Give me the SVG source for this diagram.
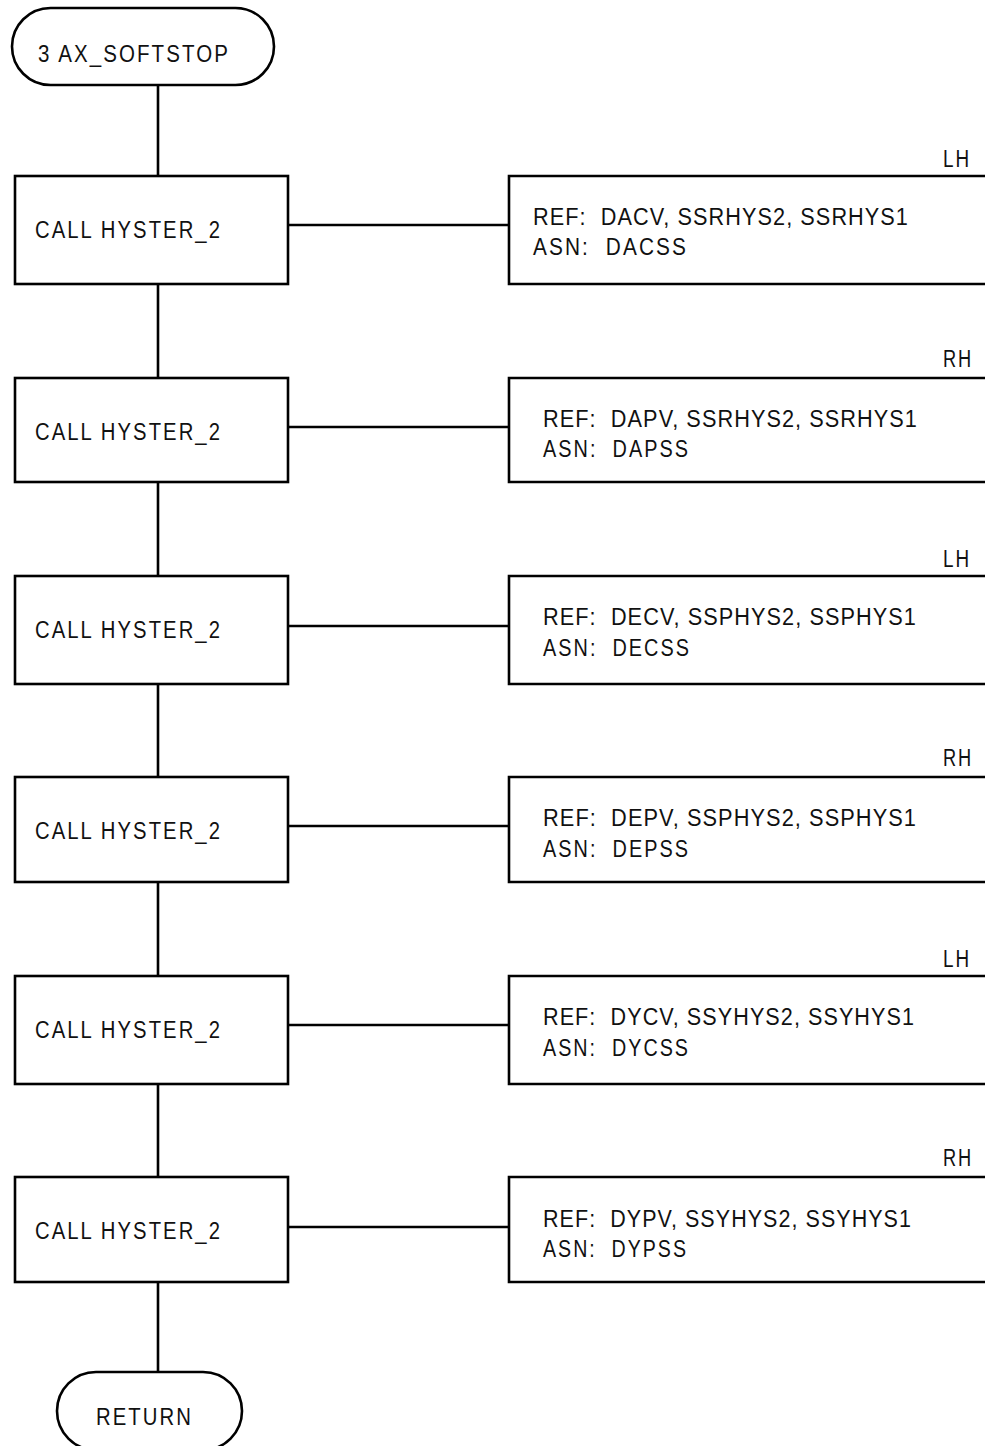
<svg xmlns="http://www.w3.org/2000/svg" width="985" height="1446" viewBox="0 0 985 1446" xml:space="preserve">
<style>
.s{fill:none;stroke:#000;stroke-width:2.6}
.t{font-family:"Liberation Sans",Arial,sans-serif;font-size:24.5px;letter-spacing:2.5px;fill:#111;white-space:pre}
.r{letter-spacing:1.2px}
</style>
<rect x="0" y="0" width="985" height="1446" fill="#fff"/>
<g id="connectors" class="s">
<path d="M158,85V176M158,284V378M158,482V576M158,684V777M158,882V976M158,1084V1177M158,1282V1372"/>
<path d="M288,225H509M288,427H509M288,626H509M288,826H509M288,1025H509M288,1227H509"/>
</g>
<g id="start">
<rect class="s" x="12" y="8" width="262" height="77" rx="38.5"/>
<text class="t" x="38" y="62" textLength="192" lengthAdjust="spacingAndGlyphs">3 AX_SOFTSTOP</text>
</g>
<g id="call1"><rect class="s" x="15" y="176" width="273" height="108"/><text class="t" x="35" y="238" textLength="187" lengthAdjust="spacingAndGlyphs">CALL HYSTER_2</text></g>
<g id="note1"><path class="s" d="M985,176H509V284H985"/><text class="t" x="943" y="167" textLength="28" lengthAdjust="spacingAndGlyphs">LH</text><text class="t r" x="533" y="225" textLength="376" lengthAdjust="spacingAndGlyphs">REF:  DACV, SSRHYS2, SSRHYS1</text><text class="t" x="533" y="255" textLength="155" lengthAdjust="spacingAndGlyphs">ASN:  DACSS</text></g>
<g id="call2"><rect class="s" x="15" y="378" width="273" height="104"/><text class="t" x="35" y="440" textLength="187" lengthAdjust="spacingAndGlyphs">CALL HYSTER_2</text></g>
<g id="note2"><path class="s" d="M985,378H509V482H985"/><text class="t" x="943" y="367" textLength="30" lengthAdjust="spacingAndGlyphs">RH</text><text class="t r" x="543" y="427" textLength="375" lengthAdjust="spacingAndGlyphs">REF:  DAPV, SSRHYS2, SSRHYS1</text><text class="t" x="543" y="457" textLength="147" lengthAdjust="spacingAndGlyphs">ASN:  DAPSS</text></g>
<g id="call3"><rect class="s" x="15" y="576" width="273" height="108"/><text class="t" x="35" y="638" textLength="187" lengthAdjust="spacingAndGlyphs">CALL HYSTER_2</text></g>
<g id="note3"><path class="s" d="M985,576H509V684H985"/><text class="t" x="943" y="567" textLength="28" lengthAdjust="spacingAndGlyphs">LH</text><text class="t r" x="543" y="625" textLength="374" lengthAdjust="spacingAndGlyphs">REF:  DECV, SSPHYS2, SSPHYS1</text><text class="t" x="543" y="656" textLength="148" lengthAdjust="spacingAndGlyphs">ASN:  DECSS</text></g>
<g id="call4"><rect class="s" x="15" y="777" width="273" height="105"/><text class="t" x="35" y="839" textLength="187" lengthAdjust="spacingAndGlyphs">CALL HYSTER_2</text></g>
<g id="note4"><path class="s" d="M985,777H509V882H985"/><text class="t" x="943" y="766" textLength="30" lengthAdjust="spacingAndGlyphs">RH</text><text class="t r" x="543" y="826" textLength="374" lengthAdjust="spacingAndGlyphs">REF:  DEPV, SSPHYS2, SSPHYS1</text><text class="t" x="543" y="857" textLength="147" lengthAdjust="spacingAndGlyphs">ASN:  DEPSS</text></g>
<g id="call5"><rect class="s" x="15" y="976" width="273" height="108"/><text class="t" x="35" y="1038" textLength="187" lengthAdjust="spacingAndGlyphs">CALL HYSTER_2</text></g>
<g id="note5"><path class="s" d="M985,976H509V1084H985"/><text class="t" x="943" y="967" textLength="28" lengthAdjust="spacingAndGlyphs">LH</text><text class="t r" x="543" y="1025" textLength="372" lengthAdjust="spacingAndGlyphs">REF:  DYCV, SSYHYS2, SSYHYS1</text><text class="t" x="543" y="1056" textLength="147" lengthAdjust="spacingAndGlyphs">ASN:  DYCSS</text></g>
<g id="call6"><rect class="s" x="15" y="1177" width="273" height="105"/><text class="t" x="35" y="1239" textLength="187" lengthAdjust="spacingAndGlyphs">CALL HYSTER_2</text></g>
<g id="note6"><path class="s" d="M985,1177H509V1282H985"/><text class="t" x="943" y="1166" textLength="30" lengthAdjust="spacingAndGlyphs">RH</text><text class="t r" x="543" y="1227" textLength="369" lengthAdjust="spacingAndGlyphs">REF:  DYPV, SSYHYS2, SSYHYS1</text><text class="t" x="543" y="1257" textLength="145" lengthAdjust="spacingAndGlyphs">ASN:  DYPSS</text></g>
<g id="return">
<rect class="s" x="57" y="1372" width="185" height="78" rx="39"/>
<text class="t" x="96" y="1425" textLength="97" lengthAdjust="spacingAndGlyphs">RETURN</text>
</g>
</svg>
